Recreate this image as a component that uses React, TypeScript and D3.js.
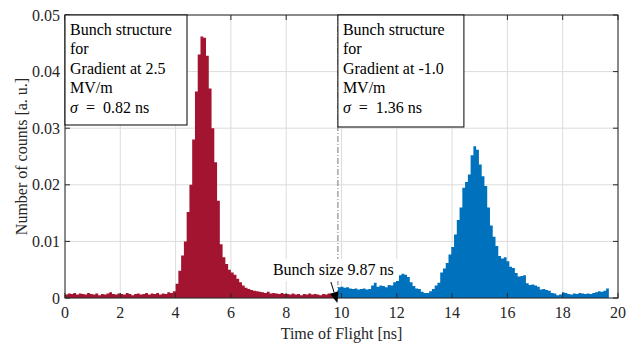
import * as d3 from "d3";

// histogram bins, 0.1 ns wide
const binWidth = 0.1;
const redStart = 0;
const redEnd = 9.87;
const redValues = [
  0.0006, 0.0008, 0.0007, 0.0009, 0.0006, 0.0008, 0.0007, 0.0006, 0.0009, 0.0007,
  0.0006, 0.0008, 0.0005, 0.0007, 0.0006, 0.0008, 0.0010, 0.0007, 0.0006, 0.0008,
  0.0007, 0.0006, 0.0009, 0.0007, 0.0005, 0.0007, 0.0008, 0.0006, 0.0007, 0.0009,
  0.0006, 0.0008, 0.0007, 0.0009, 0.0006, 0.0008, 0.0007, 0.0010, 0.0009, 0.0012,
  0.0025, 0.0048, 0.0075, 0.0100, 0.0152, 0.0200, 0.0280, 0.0365, 0.0430, 0.0462,
  0.0460, 0.0428, 0.0370, 0.0300, 0.0240, 0.0172, 0.0095, 0.0072, 0.0060, 0.0050,
  0.0045, 0.0041, 0.0034, 0.0028, 0.0022, 0.0018, 0.0016, 0.0014, 0.0013, 0.0012,
  0.0011, 0.0010, 0.0009, 0.0011, 0.0008, 0.0009, 0.0008, 0.0007, 0.0009, 0.0007,
  0.0007, 0.0006, 0.0008, 0.0006, 0.0007, 0.0005, 0.0007, 0.0006, 0.0008, 0.0006,
  0.0007, 0.0006, 0.0005, 0.0007, 0.0006, 0.0008, 0.0007, 0.0009, 0.0010,
];
const blueStart = 9.87;
const blueValues = [
  0.0019, 0.0020, 0.0018, 0.0019, 0.0017, 0.0016, 0.0017, 0.0015, 0.0016, 0.0017,
  0.0015, 0.0016, 0.0022, 0.0027, 0.0020, 0.0022, 0.0021, 0.0019, 0.0023, 0.0022,
  0.0028, 0.0035, 0.0040, 0.0043, 0.0041, 0.0037, 0.0028, 0.0021, 0.0017, 0.0016,
  0.0011, 0.0009, 0.0009, 0.0012, 0.0016, 0.0022, 0.0027, 0.0045, 0.0052, 0.0062,
  0.0077, 0.0090, 0.0112, 0.0138, 0.0160, 0.0195, 0.0205, 0.0218, 0.0252, 0.0268,
  0.0262, 0.0236, 0.0215, 0.0198, 0.0160, 0.0128, 0.0108, 0.0092, 0.0074, 0.0070,
  0.0072, 0.0065, 0.0055, 0.0053, 0.0044, 0.0038, 0.0039, 0.0040, 0.0026, 0.0023,
  0.0024, 0.0022, 0.0020, 0.0015, 0.0016, 0.0014, 0.0013, 0.0009, 0.0008, 0.0005,
  0.0006, 0.0010, 0.0009, 0.0007, 0.0006, 0.0008, 0.0007, 0.0009, 0.0008, 0.0007,
  0.0008, 0.0007, 0.0009, 0.0010, 0.0012, 0.0011, 0.0013, 0.0017,
];
const xTicks = [0, 2, 4, 6, 8, 10, 12, 14, 16, 18, 20];
const yTicks = [0, 0.01, 0.02, 0.03, 0.04, 0.05];
const bunchSize = 9.87;
const leftNote = ["Bunch structure", "for", "Gradient at 2.5", "MV/m"];
const leftSigma = "0.82 ns";
const rightNote = ["Bunch structure", "for", "Gradient at -1.0", "MV/m"];
const rightSigma = "1.36 ns";

const W = 636;
const H = 344;
const M = { top: 15, right: 18, bottom: 46, left: 65 };
const FONT = "'Liberation Serif', 'Times New Roman', serif";
const AXIS = "#262626";

function steps(start: number, values: number[], end?: number): [number, number][] {
  const pts: [number, number][] = values.map((v, i) => [start + i * binWidth, v]);
  let last = start + values.length * binWidth;
  if (end !== undefined) last = Math.min(last, end);
  pts.push([last, values[values.length - 1]]);
  return pts;
}

function NoteBox({ x, y, w, h, lines, sigma }: { x: number; y: number; w: number; h: number; lines: string[]; sigma: string }) {
  return (
    <g>
      <rect x={x} y={y} width={w} height={h} fill="#fff" stroke="#000" strokeWidth={1} />
      {lines.map((l, i) => (
        <text key={i} x={x + 5} y={y + 19.5 + i * 19.6} fontSize={16} fontFamily={FONT} fill="#000">{l}</text>
      ))}
      <text x={x + 5} y={y + 19.5 + lines.length * 19.6} fontSize={16} fontFamily={FONT} fill="#000" xmlSpace="preserve">
        <tspan fontStyle="italic">σ</tspan>
        <tspan>{"  =  " + sigma}</tspan>
      </text>
    </g>
  );
}

export default function App() {
  const iw = W - M.left - M.right;
  const ih = H - M.top - M.bottom;
  const x = d3.scaleLinear().domain([0, 20]).range([M.left, M.left + iw]);
  const y = d3.scaleLinear().domain([0, 0.05]).range([M.top + ih, M.top]);

  const area = d3.area<[number, number]>()
    .x((d) => x(d[0]))
    .y0(y(0))
    .y1((d) => y(d[1]))
    .curve(d3.curveStepAfter);

  const redPath = area(steps(redStart, redValues, redEnd)) || "";
  const bluePath = area(steps(blueStart, blueValues)) || "";

  const xb = x(bunchSize);
  const y0 = y(0);
  const tip: [number, number] = [xb - 0.5, y0 + 5];
  const tail: [number, number] = [xb - 7, y0 - 16];
  const ang = Math.atan2(tip[1] - tail[1], tip[0] - tail[0]);
  const hl = 11, hw = 4.5;
  const bx = tip[0] - hl * Math.cos(ang), by = tip[1] - hl * Math.sin(ang);
  const head = `M${tip[0]},${tip[1]} L${bx + hw * Math.sin(ang)},${by - hw * Math.cos(ang)} L${bx - hw * Math.sin(ang)},${by + hw * Math.cos(ang)} Z`;

  return (
    <svg width={W} height={H} style={{ position: "fixed", left: 0, top: 0, background: "#fff" }}>
      {/* grid */}
      {xTicks.map((t) => (
        <line key={"gx" + t} x1={x(t)} x2={x(t)} y1={M.top} y2={M.top + ih} stroke="#dcdcdc" strokeWidth={1} />
      ))}
      {yTicks.map((t) => (
        <line key={"gy" + t} x1={M.left} x2={M.left + iw} y1={y(t)} y2={y(t)} stroke="#dcdcdc" strokeWidth={1} />
      ))}

      {/* histograms */}
      <path d={redPath} fill="#A2142F" />
      <path d={bluePath} fill="#0072BD" />

      {/* bunch size marker */}
      <line x1={xb} x2={xb} y1={M.top} y2={y0} stroke="#555" strokeWidth={0.8} strokeDasharray="6,2,1,2" />

      {/* axes box */}
      <rect x={M.left} y={M.top} width={iw} height={ih} fill="none" stroke={AXIS} strokeWidth={1} />
      {xTicks.map((t) => (
        <g key={"tx" + t}>
          <line x1={x(t)} x2={x(t)} y1={y0} y2={y0 - 5} stroke={AXIS} />
          <line x1={x(t)} x2={x(t)} y1={M.top} y2={M.top + 5} stroke={AXIS} />
          <text x={x(t)} y={y0 + 20} textAnchor="middle" fontSize={16} fontFamily={FONT} fill={AXIS}>{t}</text>
        </g>
      ))}
      {yTicks.map((t) => (
        <g key={"ty" + t}>
          <line x1={M.left} x2={M.left + 5} y1={y(t)} y2={y(t)} stroke={AXIS} />
          <line x1={M.left + iw} x2={M.left + iw - 5} y1={y(t)} y2={y(t)} stroke={AXIS} />
          <text x={M.left - 5} y={y(t) + 5.5} textAnchor="end" fontSize={16} fontFamily={FONT} fill={AXIS}>
            {t === 0 ? "0" : t.toFixed(2)}
          </text>
        </g>
      ))}

      <text x={M.left + iw / 2} y={H - 5} textAnchor="middle" fontSize={16} fontFamily={FONT} fill={AXIS}>Time of Flight [ns]</text>
      <text transform={`translate(27,${M.top + ih / 2}) rotate(-90)`} textAnchor="middle" fontSize={16} fontFamily={FONT} fill={AXIS}>
        Number of counts [a. u.]
      </text>

      {/* annotations */}
      <NoteBox x={M.left} y={M.top} w={122} h={110} lines={leftNote} sigma={leftSigma} />
      <NoteBox x={xb} y={M.top} w={126} h={112} lines={rightNote} sigma={rightSigma} />

      <rect x={xb - 67} y={y0 - 39} width={128} height={22} fill="#fff" />
      <text x={xb - 65} y={y0 - 23} fontSize={16} fontFamily={FONT} fill="#000">Bunch size 9.87 ns</text>
      <line x1={tail[0]} y1={tail[1]} x2={bx} y2={by} stroke="#000" strokeWidth={1} />
      <path d={head} fill="#000" />
    </svg>
  );
}
